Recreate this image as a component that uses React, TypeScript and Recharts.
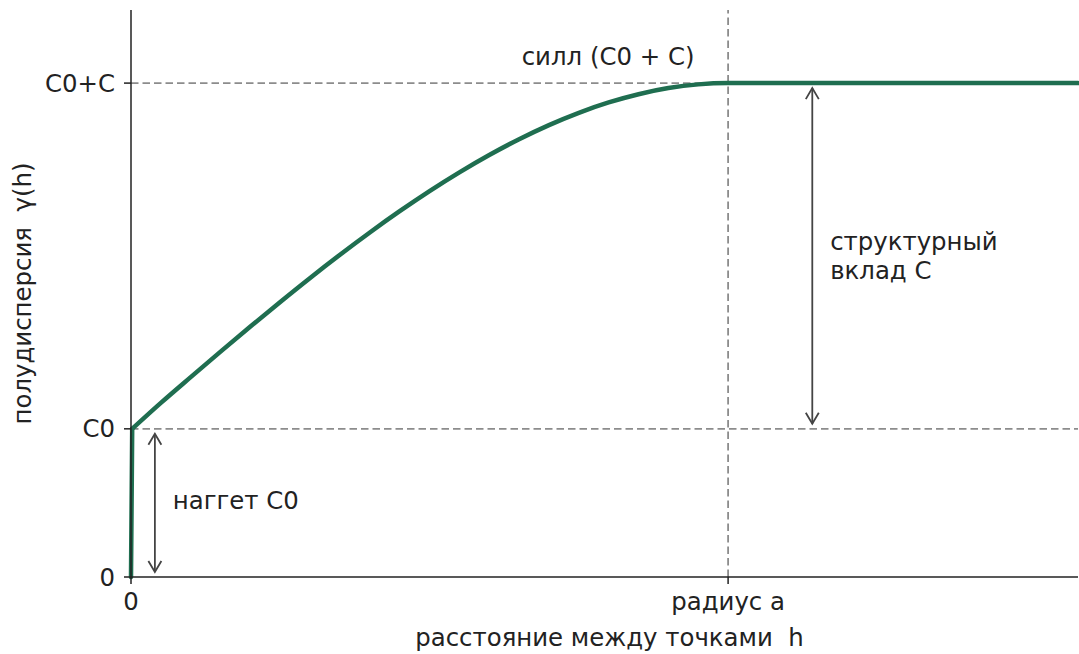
import { LineChart, Line, XAxis, YAxis, ReferenceLine, ReferenceDot } from 'recharts'

// spherical semivariogram (range a = 10 units, sill = 1)
const jumpDistance = [0, 0.02]
const jumpValue = [0, 0.3]
const distance = [0.02, 0.5, 1, 1.5, 2, 2.5, 3, 3.5, 4, 4.5, 5, 5.5, 6, 6.5, 7, 7.5, 8, 8.5, 9, 9.5, 10, 12, 14, 15.86]
const semivariance = [0.3, 0.3525, 0.4047, 0.4563, 0.5072, 0.557, 0.6056, 0.6525, 0.6976, 0.7406, 0.7813, 0.8193, 0.8544, 0.8864, 0.915, 0.9399, 0.9608, 0.9775, 0.9899, 0.9974, 1, 1, 1, 1]

const rangeA = 10
const nugget = 0.3
const sill = 1
const xMax = 15.86
const yMax = 1.148

const yTicks = [0, nugget, sill]
const yTickLabels = ['0', 'C0', 'C0+C']
const xTicks = [0, rangeA]
const xTickLabels = ['0', 'радиус a']

const nuggetArrowX = 0.4
const structArrowX = 11.41

const FONT = 'DejaVu Sans'
const FS = 24.4
const INK = '#222'
const GREEN = '#1f6e50'
const DASH = { stroke: '#8c8c8c', strokeWidth: 1.8, strokeDasharray: '7.5 4' }

const jumpData = jumpDistance.map((h, i) => ({ h, g: jumpValue[i] }))
const curveData = distance.map((h, i) => ({ h, g: semivariance[i] }))

function arrowShape(p: any) {
  const x = p.x1
  const top = Math.min(p.y1, p.y2) + 5
  const bot = Math.max(p.y1, p.y2) - 5
  const hl = 11
  const hw = 6.5
  return (
    <g stroke="#444" strokeWidth={1.8} fill="none">
      <line x1={x} y1={top} x2={x} y2={bot} />
      <polyline points={`${x - hw},${top + hl} ${x},${top} ${x + hw},${top + hl}`} />
      <polyline points={`${x - hw},${bot - hl} ${x},${bot} ${x + hw},${bot - hl}`} />
    </g>
  )
}

const textShape = (lines: string[], anchor: 'start' | 'middle') => (p: any) => (
  <text x={p.cx} y={p.cy} textAnchor={anchor} fontFamily={FONT} fontSize={FS} fill={INK} style={{ whiteSpace: 'pre' }}>
    {lines.map((s, i) => (
      <tspan key={i} x={p.cx} dy={i === 0 ? `${0.35 - (lines.length - 1) * 0.575}em` : '1.15em'}>{s}</tspan>
    ))}
  </text>
)

export default function App() {
  return (
    <div style={{ position: 'absolute', left: 0, top: 0, background: '#fff' }}>
      <LineChart width={1079} height={654} margin={{ top: 10, right: 1, left: 0, bottom: 0 }}>
        <XAxis
          dataKey="h"
          type="number"
          domain={[0, xMax]}
          ticks={xTicks}
          tickFormatter={(v: number) => xTickLabels[xTicks.indexOf(v)]}
          height={77}
          tickSize={7}
          tickMargin={9}
          axisLine={{ stroke: INK, strokeWidth: 1.5 }}
          tickLine={{ stroke: INK, strokeWidth: 1.5 }}
          tick={{ fontSize: FS, fontFamily: FONT, fill: INK }}
          label={{
            content: (lp: any) => {
              const vb = lp.viewBox
              return (
                <text x={vb.x + vb.width / 2 + 5} y={vb.y + 69} textAnchor="middle" fontFamily={FONT} fontSize={FS} fill={INK} style={{ whiteSpace: 'pre' }}>
                  расстояние между точками  h
                </text>
              )
            },
          }}
        />
        <YAxis
          type="number"
          domain={[0, yMax]}
          ticks={yTicks}
          tickFormatter={(v: number) => yTickLabels[yTicks.indexOf(v)]}
          width={131}
          tickSize={7}
          tickMargin={9}
          axisLine={{ stroke: INK, strokeWidth: 1.5 }}
          tickLine={{ stroke: INK, strokeWidth: 1.5 }}
          tick={{ fontSize: FS, fontFamily: FONT, fill: INK }}
          label={{
            content: (lp: any) => {
              const vb = lp.viewBox
              const cx = vb.x + 22
              const cy = vb.y + vb.height / 2
              return (
                <text x={cx} y={cy} dy="0.35em" textAnchor="middle" transform={`rotate(-90 ${cx} ${cy})`} fontFamily={FONT} fontSize={FS} fill={INK} style={{ whiteSpace: 'pre' }}>
                  полудисперсия  γ(h)
                </text>
              )
            },
          }}
        />
        <ReferenceLine y={nugget} {...DASH} />
        <ReferenceLine y={sill} {...DASH} />
        <ReferenceLine x={rangeA} {...DASH} />
        <Line data={jumpData} dataKey="g" type="linear" stroke={GREEN} strokeWidth={4.5} strokeLinecap="round" dot={false} isAnimationActive={false} />
        <Line data={curveData} dataKey="g" type="monotone" stroke={GREEN} strokeWidth={4.5} strokeLinecap="round" dot={false} isAnimationActive={false} />
        <ReferenceLine segment={[{ x: nuggetArrowX, y: 0 }, { x: nuggetArrowX, y: nugget }]} shape={arrowShape} />
        <ReferenceLine segment={[{ x: structArrowX, y: nugget }, { x: structArrowX, y: sill }]} shape={arrowShape} />
        <ReferenceDot x={0.7} y={0.154} r={0} shape={textShape(['наггет C0'], 'start')} />
        <ReferenceDot x={11.71} y={0.65} r={0} shape={textShape(['структурный', 'вклад C'], 'start')} />
        <ReferenceDot x={7.99} y={1.053} r={0} shape={textShape(['силл (C0 + C)'], 'middle')} />
      </LineChart>
    </div>
  )
}
